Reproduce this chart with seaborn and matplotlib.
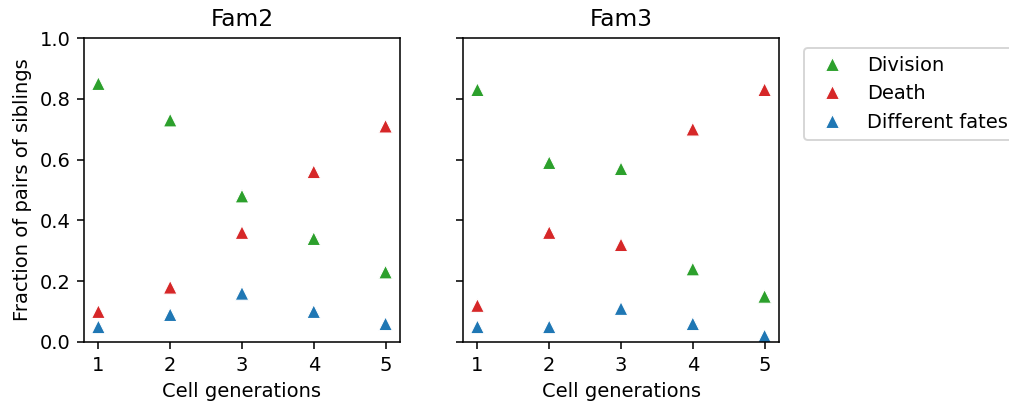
import matplotlib
matplotlib.use("Agg")
import matplotlib.pyplot as plt
import seaborn as sns
import pandas as pd

generations = [1, 2, 3, 4, 5]
fates = ["Division", "Death", "Different fates"]
fate_colors = ["#2ca02c", "#d62728", "#1f77b4"]

fam2_division = [0.85, 0.73, 0.48, 0.34, 0.23]
fam2_death = [0.10, 0.18, 0.36, 0.56, 0.71]
fam2_different = [0.05, 0.09, 0.16, 0.10, 0.06]

fam3_division = [0.83, 0.59, 0.57, 0.24, 0.15]
fam3_death = [0.12, 0.36, 0.32, 0.70, 0.83]
fam3_different = [0.05, 0.05, 0.11, 0.06, 0.02]

families = {
    "Fam2": [fam2_division, fam2_death, fam2_different],
    "Fam3": [fam3_division, fam3_death, fam3_different],
}


def long_table(series):
    rows = []
    for fate, values in zip(fates, series):
        for g, v in zip(generations, values):
            rows.append({"generation": g, "fraction": v, "fate": fate})
    return pd.DataFrame(rows)


DPI = 140
fig, axes = plt.subplots(1, 2, sharey=True, figsize=(1009 / DPI, 403 / DPI), dpi=DPI)
fig.subplots_adjust(left=0.0833, right=0.772, top=0.9057, bottom=0.1514, wspace=0.2)

palette = dict(zip(fates, fate_colors))
for ax, (name, series) in zip(axes, families.items()):
    df = long_table(series)
    sns.scatterplot(data=df, x="generation", y="fraction", hue="fate",
                    hue_order=fates, palette=palette, marker="^", s=50,
                    ax=ax, legend=(name == "Fam3"))
    ax.set_title(name)
    ax.set_xlabel("Cell generations")
    ax.set_xticks(generations)
    ax.set_ylim(0, 1.0)

axes[0].set_ylabel("Fraction of pairs of siblings")
axes[1].set_ylabel("")

handles, labels = axes[1].get_legend_handles_labels()
axes[1].get_legend().remove()
axes[1].legend(handles, labels, loc="upper left", bbox_to_anchor=(1.05, 1))

fig.savefig("out.png", dpi=DPI)
